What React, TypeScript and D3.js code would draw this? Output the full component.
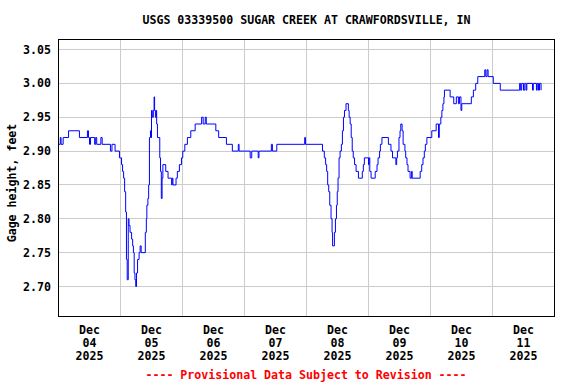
import React from "react";
import * as d3 from "d3";

const TITLE = "USGS 03339500 SUGAR CREEK AT CRAWFORDSVILLE, IN";
const Y_LABEL = "Gage height, feet";
const FOOTER = "---- Provisional Data Subject to Revision ----";
const Y_TICKS = [2.7, 2.75, 2.8, 2.85, 2.9, 2.95, 3.0, 3.05];
const DAY_LABELS = ["04", "05", "06", "07", "08", "09", "10", "11"];
const MONTH_LABEL = "Dec";
const YEAR_LABEL = "2025";

// hours after 2025-12-04 00:00 (local) at which the gage height changes
const HOURS = [
  0, 0.7, 1.0, 1.8, 3.9, 8.1, 11.2, 11.6, 12.0, 12.4, 14.0, 14.4, 14.8, 16.4, 16.9, 20.1, 20.7, 21.9,
  23.6, 24.4, 24.8, 25.2, 25.6, 26.0, 26.3, 26.6, 27.0, 27.3, 27.7, 28.3, 28.7, 29.0, 29.3, 29.6, 29.9,
  30.2, 30.6, 31.2, 31.6, 32.0, 33.6, 34.0, 34.2, 34.6, 34.9, 35.2, 35.6, 35.8, 36.0, 36.3, 36.7, 37.0,
  37.2, 37.5, 37.8, 38.0, 38.3, 39.2, 39.5, 39.8, 40.1, 40.4, 41.5, 42.4, 43.8, 44.0, 44.3, 45.5, 46.0,
  46.8, 47.6, 48.1, 48.9, 49.9, 51.2, 52.9, 55.4, 56.0, 56.8, 57.2, 60.9, 62.0, 65.0, 67.3, 69.6, 69.9,
  74.2, 74.8, 77.3, 77.6, 82.4, 82.8, 84.5, 95.3, 95.6, 102.2, 102.9, 103.4, 103.8, 104.2, 104.6, 105.0,
  105.5, 105.9, 106.1, 106.8, 107.2, 107.6, 107.9, 108.2, 108.6, 109.0, 109.5, 109.9, 110.3, 110.7,
  111.3, 112.2, 112.5, 112.9, 113.3, 113.7, 114.1, 114.6, 115.2, 116.1, 117.6, 118.0, 118.4, 120.0,
  120.2, 120.5, 121.0, 122.6, 123.3, 123.7, 124.3, 124.6, 125.2, 127.7, 128.7, 129.3, 130.6, 130.9,
  131.2, 131.8, 132.2, 132.5, 133.0, 133.4, 134.1, 134.4, 134.9, 135.3, 136.1, 136.7, 136.9, 140.0,
  140.6, 141.1, 141.6, 142.0, 142.6, 144.5, 146.2, 147.1, 147.4, 148.0, 148.4, 148.8, 149.2, 149.4,
  151.6, 153.0, 154.0, 154.8, 155.2, 155.8, 156.1, 159.8, 160.6, 161.5, 162.3, 165.0, 165.4, 165.9,
  166.3, 168.3, 171.0, 178.5, 178.9, 179.3, 180.0, 180.5, 181.0, 181.3, 183.5, 183.8, 185.0, 185.3,
  185.8, 186.2, 186.8,
];

const STAGE = [
  2.91, 2.92, 2.91, 2.92, 2.93, 2.92, 2.93, 2.92, 2.91, 2.92, 2.91, 2.92, 2.91, 2.92, 2.91, 2.9, 2.91, 2.9,
  2.89, 2.88, 2.87, 2.86, 2.84, 2.81, 2.74, 2.71, 2.8, 2.79, 2.78, 2.77, 2.76, 2.75, 2.72, 2.71, 2.7,
  2.72, 2.74, 2.75, 2.76, 2.75, 2.78, 2.8, 2.82, 2.83, 2.85, 2.92, 2.93, 2.92, 2.96, 2.95, 2.96, 2.98,
  2.96, 2.95, 2.96, 2.94, 2.92, 2.89, 2.87, 2.83, 2.86, 2.88, 2.87, 2.86, 2.85, 2.86, 2.85, 2.86, 2.87,
  2.88, 2.89, 2.9, 2.91, 2.92, 2.93, 2.94, 2.95, 2.94, 2.95, 2.94, 2.93, 2.92, 2.91, 2.9, 2.91, 2.9,
  2.89, 2.9, 2.89, 2.9, 2.91, 2.9, 2.91, 2.92, 2.91, 2.9, 2.89, 2.88, 2.87, 2.85, 2.84, 2.82,
  2.8, 2.78, 2.76, 2.78, 2.8, 2.82, 2.84, 2.86, 2.89, 2.9, 2.91, 2.93, 2.95, 2.96,
  2.97, 2.96, 2.95, 2.94, 2.92, 2.9, 2.89, 2.88, 2.87, 2.86, 2.87, 2.88, 2.89, 2.88,
  2.89, 2.87, 2.86, 2.87, 2.88, 2.89, 2.9, 2.91, 2.92, 2.91, 2.9, 2.89, 2.88, 2.89,
  2.9, 2.92, 2.93, 2.94, 2.93, 2.91, 2.9, 2.89, 2.88, 2.87, 2.86, 2.87, 2.86, 2.87,
  2.88, 2.89, 2.9, 2.91, 2.92, 2.93, 2.94, 2.92, 2.94, 2.95, 2.96, 2.97, 2.98, 2.99,
  2.98, 2.97, 2.98, 2.97, 2.98, 2.96, 2.97, 2.98, 2.99, 3.0, 3.01, 3.02, 3.01, 3.02,
  3.01, 3.0, 2.99, 3.0, 2.99, 3.0, 2.99, 3.0, 2.99, 3.0, 2.99, 3.0, 2.99, 3.0,
  2.99, 3.0, 2.99,
];

const W = 576;
const H = 384;
const LEFT = 58.5;
const RIGHT = 554.5;
const TOP = 39.5;
const BOTTOM = 316.5;
const FONT = "'DejaVu Sans Mono', 'Liberation Mono', monospace";

const start = new Date(2025, 11, 4, 0, 0, 0);
const end = new Date(2025, 11, 12, 0, 0, 0);
const toDate = (h: number) => new Date(start.getTime() + h * 3600 * 1000);

export default function App() {
  const x = d3.scaleTime().domain([start, end]).range([LEFT, RIGHT]);
  const y = d3.scaleLinear().domain([2.6557, 3.0648]).range([BOTTOM, TOP]);

  const data = HOURS.map((h, i) => ({ t: toDate(h), v: STAGE[i] }));
  const line = d3
    .line<{ t: Date; v: number }>()
    .x((d) => x(d.t))
    .y((d) => y(d.v))
    .curve(d3.curveStepAfter);

  const dayTicks = d3.timeDay.range(start, end);
  const gridDays = dayTicks.slice(1);
  const snap = (v: number) => Math.round(v - 0.5) + 0.5;

  return (
    <svg
      width={W}
      height={H}
      style={{ position: "absolute", left: 0, top: 0, background: "#fff" }}
      fontFamily={FONT}
      fontWeight="bold"
      fontSize={11.6}
    >
      <rect x={0} y={0} width={W} height={H} fill="#fff" />
      <text x={(LEFT + RIGHT) / 2} y={24} textAnchor="middle" fill="#000">
        {TITLE}
      </text>
      {Y_TICKS.map((v) => (
        <line
          key={"gy" + v}
          x1={LEFT}
          x2={RIGHT}
          y1={snap(y(v))}
          y2={snap(y(v))}
          stroke="#cccccc"
          strokeWidth={1}
        />
      ))}
      {gridDays.map((d) => (
        <line
          key={"gx" + d.getTime()}
          x1={snap(x(d))}
          x2={snap(x(d))}
          y1={TOP}
          y2={BOTTOM}
          stroke="#cccccc"
          strokeWidth={1}
        />
      ))}
      <path d={line(data) || ""} fill="none" stroke="#0000ff" strokeWidth={1} />
      <rect x={LEFT} y={TOP} width={RIGHT - LEFT} height={BOTTOM - TOP} fill="none" stroke="#000" strokeWidth={1} />
      {Y_TICKS.map((v) => (
        <text key={"ty" + v} x={51} y={y(v) + 4} textAnchor="end" fill="#000">
          {v.toFixed(2)}
        </text>
      ))}
      {dayTicks.map((d, i) => {
        const cx = x(d3.timeHour.offset(d, 12));
        return (
          <g key={"tx" + i}>
            <text x={cx} y={334} textAnchor="middle" fill="#000">
              {MONTH_LABEL}
            </text>
            <text x={cx} y={347} textAnchor="middle" fill="#000">
              {DAY_LABELS[i]}
            </text>
            <text x={cx} y={360} textAnchor="middle" fill="#000">
              {YEAR_LABEL}
            </text>
          </g>
        );
      })}
      <text transform={`translate(16,183) rotate(-90)`} textAnchor="middle" fill="#000">
        {Y_LABEL}
      </text>
      <text x={306} y={379} textAnchor="middle" fill="#ff0000">
        {FOOTER}
      </text>
    </svg>
  );
}
